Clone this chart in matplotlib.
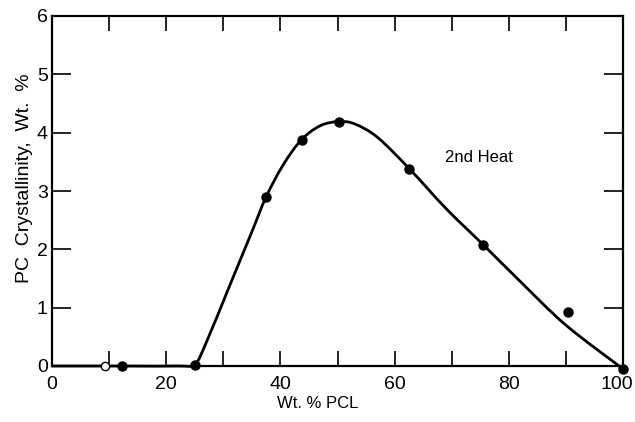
import matplotlib
matplotlib.use("Agg")
import matplotlib.pyplot as plt
import matplotlib.transforms as mtransforms
from matplotlib.path import Path
from matplotlib.patches import PathPatch

# Data
pts_x = [12.3, 25.0, 37.5, 43.7, 50.2, 62.6, 75.5, 90.3, 100.0]
pts_y = [0.0, 0.02, 2.9, 3.88, 4.19, 3.38, 2.08, 0.92, -0.05]
open_x = [9.2]
open_y = [0.0]

# smooth drawn curve, knots
curve_x = [0, 12.3, 22, 25, 27, 31, 35, 37.5, 40.5, 43.7, 47, 50.2, 53, 57, 62.6, 69, 75.5, 82, 90, 100]
curve_y = [0, 0, 0, 0.03, 0.4, 1.35, 2.3, 2.9, 3.45, 3.88, 4.12, 4.19, 4.15, 3.92, 3.38, 2.7, 2.08, 1.45, 0.7, -0.05]

xticks = [0, 20, 40, 60, 80, 100]
xtick_labels = ["0", "20", "40", "60", "80", "100"]
yticks = [0, 1, 2, 3, 4, 5, 6]
ytick_labels = ["0", "1", "2", "3", "4", "5", "6"]

plt.rcParams["font.family"] = ["Liberation Sans", "DejaVu Sans"]

fig = plt.figure(figsize=(6.35, 4.22), dpi=100)
ax = fig.add_axes([52/635, 1-366/422, (623-52)/635, (366-16)/422])

# Catmull-Rom -> cubic Bezier path through the knots
pts = list(zip(curve_x, curve_y))
verts = [pts[0]]
codes = [Path.MOVETO]
n = len(pts)
for i in range(n - 1):
    p0 = pts[i - 1] if i > 0 else pts[i]
    p1 = pts[i]
    p2 = pts[i + 1]
    p3 = pts[i + 2] if i + 2 < n else pts[i + 1]
    c1 = (p1[0] + (p2[0] - p0[0]) / 6, p1[1] + (p2[1] - p0[1]) / 6)
    c2 = (p2[0] - (p3[0] - p1[0]) / 6, p2[1] - (p3[1] - p1[1]) / 6)
    verts += [c1, c2, p2]
    codes += [Path.CURVE4] * 3
ax.add_patch(PathPatch(Path(verts, codes), fill=False, edgecolor="black", lw=2.0,
                       zorder=2, clip_on=False))

ax.plot(pts_x, pts_y, "o", color="black", ms=6.5, zorder=3, clip_on=False)
ax.plot(open_x, open_y, "o", mfc="white", mec="black", mew=1.0, ms=6, zorder=4, clip_on=False)

ax.set_xlim(0, 100)
ax.set_ylim(0, 6)
ax.set_xticks(xticks)
ax.set_xticklabels(xtick_labels)
ax.set_xticks(range(10, 100, 20), minor=True)
ax.set_yticks(yticks)
ax.set_yticklabels(ytick_labels)

ax.tick_params(axis="both", which="both", direction="in", top=True, right=True,
               width=1.2, labelsize=14, colors="black")
ax.tick_params(axis="x", which="both", length=11, pad=7)
ax.tick_params(axis="y", which="both", length=14, pad=3)
for s in ax.spines.values():
    s.set_linewidth(1.6)

# nudge the "100" label left so it stays inside the picture
lbl = ax.get_xticklabels()[-1]
lbl.set_transform(lbl.get_transform() + mtransforms.ScaledTranslation(-6/100, 0, fig.dpi_scale_trans))

ax.set_xlabel("Wt. % PCL", fontsize=12)
ax.xaxis.set_label_coords(0.466, -0.085)
ax.set_ylabel("PC  Crystallinity,  Wt.  %", fontsize=14)
ax.yaxis.set_label_coords(-0.033, 0.537)
ax.text(68.8, 3.58, "2nd Heat", fontsize=12, va="center", ha="left")

fig.savefig("out.png", dpi=100)
